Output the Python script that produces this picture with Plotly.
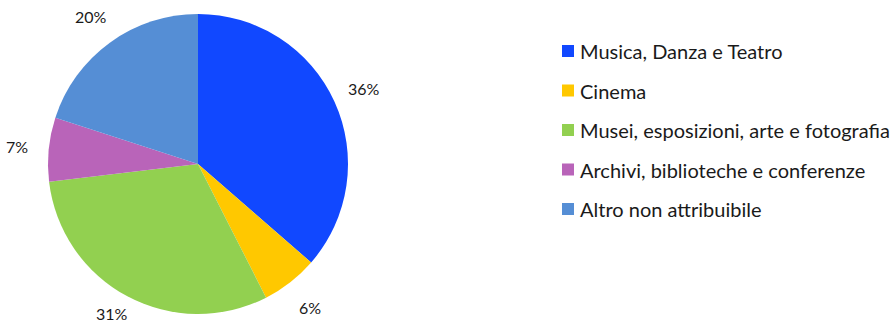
import math
import plotly.graph_objects as go

categories = [
    "Musica, Danza e Teatro",
    "Cinema",
    "Musei, esposizioni, arte e fotografia",
    "Archivi, biblioteche e conferenze",
    "Altro non attribuibile",
]
values = [36.4, 6.1, 30.6, 6.9, 20.0]
colors = ["#1148FF", "#FFC800", "#92D050", "#B964B9", "#558ED5"]

FONT = "Lato, 'Open Sans', sans-serif"
TEXT_COLOR = "#1a1a1a"
W, H = 891, 324

# pie geometry (pixels)
CX, CY, R = 198, 164, 150
LABEL_R = 182

fig = go.Figure()

fig.add_trace(go.Pie(
    labels=categories,
    values=values,
    sort=False,
    direction="clockwise",
    rotation=0,
    marker=dict(colors=colors, line=dict(width=0)),
    textinfo="none",
    showlegend=False,
    domain=dict(x=[(CX - R) / W, (CX + R) / W],
                y=[(H - CY - R) / H, (H - CY + R) / H]),
    hoverinfo="label+percent",
))

# percentage labels placed outside each slice, at its mid-angle
total = sum(values)
cum = 0.0
for v in values:
    theta = 2 * math.pi * (cum + v / 2) / total
    cum += v
    px = CX + LABEL_R * math.sin(theta)
    py = CY - LABEL_R * math.cos(theta)
    py = min(max(py, 11), H - 11)  # keep the label inside the canvas
    fig.add_annotation(
        x=px / W, y=1 - py / H, xref="paper", yref="paper",
        text=f"{round(100 * v / total)}%", showarrow=False,
        xanchor="center", yanchor="middle",
        font=dict(family=FONT, size=16, color=TEXT_COLOR),
    )

# legend: square swatches on a hidden axis, one row per category
LEG_X0, ROW0, ROW_STEP = 568, 51, 39.5
dom_x0 = 0.6
x_span = (W - dom_x0 * W) / (LEG_X0 - dom_x0 * W)  # range width so x=0 sits at LEG_X0
rows = list(range(len(categories)))
fig.add_trace(go.Scatter(
    x=[0] * len(categories), y=rows, mode="markers",
    marker=dict(symbol="square", size=12, color=colors),
    xaxis="x2", yaxis="y2", showlegend=False, hoverinfo="skip",
))
for i, name in zip(rows, categories):
    fig.add_annotation(
        x=0, y=i, xref="x2", yref="y2", text=name, showarrow=False,
        xanchor="left", yanchor="middle", xshift=10,
        font=dict(family=FONT, size=20, color=TEXT_COLOR),
    )

fig.update_layout(
    width=W, height=H,
    margin=dict(l=0, r=0, t=0, b=0),
    paper_bgcolor="white", plot_bgcolor="rgba(0,0,0,0)",
    showlegend=False,
    xaxis2=dict(domain=[dom_x0, 1], range=[-1, -1 + x_span], visible=False),
    yaxis2=dict(domain=[0, 1], anchor="x2",
                range=[(H - ROW0) / ROW_STEP, -ROW0 / ROW_STEP], visible=False),
    font=dict(family=FONT),
)

fig.write_html("out.html")
